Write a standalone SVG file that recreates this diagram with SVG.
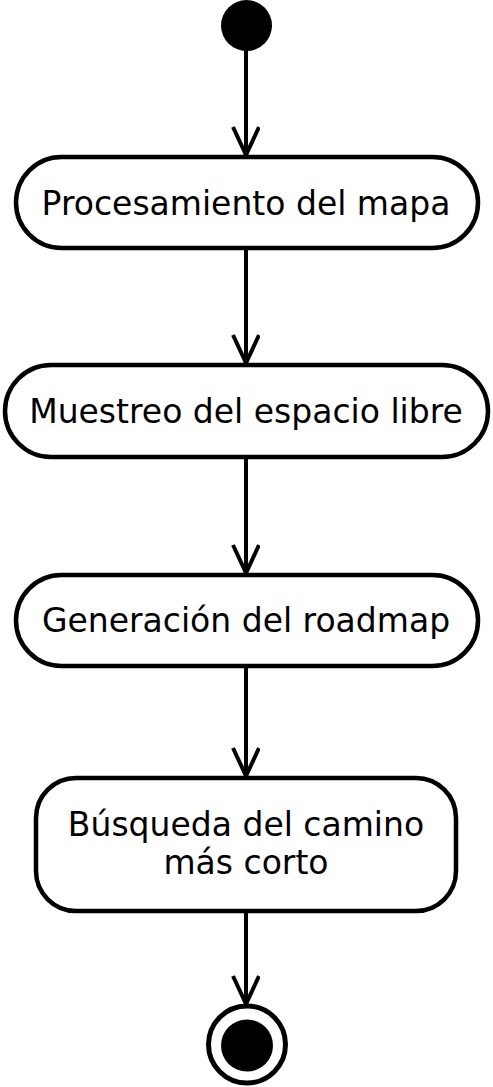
<svg xmlns="http://www.w3.org/2000/svg" width="493" height="1087" viewBox="0 0 493 1087">
<style>
.n{fill:#fff;stroke:#000;stroke-width:4.5}
.t{font-family:"DejaVu Sans",sans-serif;font-size:33px;fill:#000;text-anchor:middle}
.c{stroke:#000;stroke-width:4;fill:none}
</style>
<defs>
<marker id="a" markerUnits="userSpaceOnUse" markerWidth="40" markerHeight="40" refX="30" refY="14" orient="auto">
<path d="M2,1 L30,14 L2,27" fill="none" stroke="#000" stroke-width="4"/>
</marker>
</defs>
<rect width="493" height="1087" fill="#fff"/>
<g id="connectors">
<line class="c" x1="246" y1="50" x2="246" y2="155" marker-end="url(#a)"/>
<line class="c" x1="246" y1="250" x2="246" y2="363" marker-end="url(#a)"/>
<line class="c" x1="246" y1="459" x2="246" y2="573" marker-end="url(#a)"/>
<line class="c" x1="246" y1="668" x2="246" y2="776" marker-end="url(#a)"/>
<line class="c" x1="246" y1="913" x2="246" y2="1004" marker-end="url(#a)"/>
</g>
<g id="start"><circle cx="246.5" cy="25.5" r="25.5" fill="#000"/></g>
<g id="n1"><rect class="n" x="16" y="157" width="462" height="91" rx="45.5"/><text class="t" x="246" y="215">Procesamiento del mapa</text></g>
<g id="n2"><rect class="n" x="5" y="365" width="483" height="92" rx="46"/><text class="t" x="246" y="423">Muestreo del espacio libre</text></g>
<g id="n3"><rect class="n" x="16" y="575" width="462" height="91" rx="45.5"/><text class="t" x="246" y="632">Generación del roadmap</text></g>
<g id="n4"><rect class="n" x="36" y="778" width="420" height="133" rx="40"/><text class="t" x="246" y="836">Búsqueda del camino</text><text class="t" x="246" y="874">más corto</text></g>
<g id="end"><circle cx="247" cy="1044.5" r="38.5" fill="#fff" stroke="#000" stroke-width="5"/><circle cx="247" cy="1045.5" r="26" fill="#000"/></g>
</svg>
